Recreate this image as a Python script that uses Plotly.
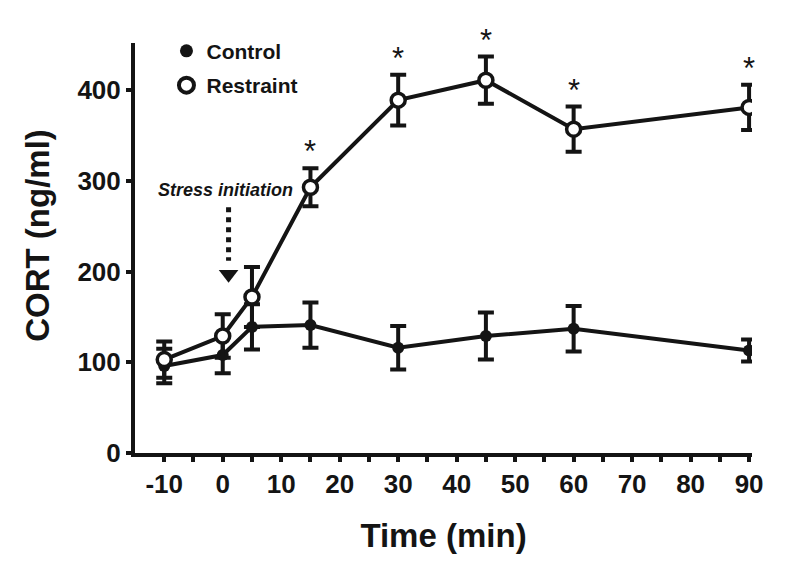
import plotly.graph_objects as go

time_min = [-10, 0, 5, 15, 30, 45, 60, 90]
control_mean = [96, 108, 139, 141, 116, 129, 137, 113]
control_err = [19, 20, 25, 25, 24, 26, 25, 12]
restraint_mean = [103, 129, 172, 293, 389, 411, 357, 381]
restraint_err = [20, 24, 33, 21, 28, 26, 25, 25]
sig_times = [15, 30, 45, 60, 90]

x_tickvals = list(range(-10, 91, 5))
x_ticktext = [str(v) if v % 10 == 0 else "" for v in x_tickvals]
y_tickvals = [0, 100, 200, 300, 400]

FONT = "Liberation Sans, Arial, sans-serif"
BLACK = "#141414"
LW = 4

fig = go.Figure()

fig.add_trace(go.Scatter(
    x=time_min, y=control_mean, mode="lines+markers", name="Control", showlegend=False,
    line=dict(color=BLACK, width=LW),
    marker=dict(symbol="circle", size=12, color=BLACK),
    error_y=dict(type="data", array=control_err, visible=True, color=BLACK, thickness=LW, width=8),
))
fig.add_trace(go.Scatter(
    x=time_min, y=restraint_mean, mode="lines+markers", name="Restraint", showlegend=False,
    line=dict(color=BLACK, width=LW),
    marker=dict(symbol="circle", size=14, color="white", line=dict(color=BLACK, width=3.5)),
    error_y=dict(type="data", array=restraint_err, visible=True, color=BLACK, thickness=LW, width=8),
))
# legend entries (markers only)
fig.add_trace(go.Scatter(x=[None], y=[None], mode="markers", name="<b>Control</b>",
                         legendgroup="a",
                         marker=dict(symbol="circle", size=13, color=BLACK)))
fig.add_trace(go.Scatter(x=[None], y=[None], mode="markers", name="<b>Restraint</b>",
                         legendgroup="b",
                         marker=dict(symbol="circle", size=15, color="white",
                                     line=dict(color=BLACK, width=4))))

# significance asterisks
for t in sig_times:
    i = time_min.index(t)
    fig.add_annotation(x=t, y=restraint_mean[i] + restraint_err[i], text="*", showarrow=False,
                       yanchor="bottom", yshift=-3, font=dict(family=FONT, size=31, color=BLACK))

# stress initiation arrow
ARROW_X = 1
ARROW_Y0 = 271
ARROW_Y1 = 212
ARROW_HEAD = 197
fig.add_shape(type="line", x0=ARROW_X, x1=ARROW_X, y0=ARROW_Y0, y1=ARROW_Y1,
              line=dict(color=BLACK, width=5, dash="dot"))
fig.add_trace(go.Scatter(x=[ARROW_X], y=[ARROW_HEAD], mode="markers", showlegend=False,
                         hoverinfo="skip",
                         marker=dict(symbol="triangle-down", size=17, color=BLACK)))
fig.add_annotation(x=0.5, y=290, text="<b><i>Stress initiation</i></b>", showarrow=False,
                   font=dict(family=FONT, size=18, color=BLACK))

# y-axis title
fig.add_annotation(xref="paper", yref="paper", x=-0.157, y=0.53, text="<b>CORT (ng/ml)</b>",
                   textangle=-90, showarrow=False, xanchor="center", yanchor="middle",
                   font=dict(family=FONT, size=33, color=BLACK))

fig.update_layout(
    width=800, height=566,
    margin=dict(l=127, r=56, t=35, b=121),
    paper_bgcolor="white", plot_bgcolor="white",
    font=dict(family=FONT, color=BLACK),
    legend=dict(x=0.051, y=1.03, xanchor="left", yanchor="top",
                font=dict(family=FONT, size=21, color=BLACK), itemwidth=30,
                bgcolor="rgba(0,0,0,0)", tracegroupgap=4),
    xaxis=dict(range=[-15, 90.5], tickmode="array", tickvals=x_tickvals, ticktext=x_ticktext,
               showgrid=False, zeroline=False, showline=True, linecolor=BLACK, linewidth=4,
               ticks="outside", ticklen=5, tickwidth=3.5, tickcolor=BLACK,
               tickfont=dict(family=FONT, size=26, color=BLACK, weight="bold"),
               title=dict(text="<b>Time (min)</b>", font=dict(family=FONT, size=33, color=BLACK),
                          standoff=27)),
    yaxis=dict(range=[0, 452], tickmode="array", tickvals=y_tickvals,
               showgrid=False, zeroline=False, showline=True, linecolor=BLACK, linewidth=4,
               ticks="outside", ticklen=5, tickwidth=3.5, tickcolor=BLACK,
               tickfont=dict(family=FONT, size=26, color=BLACK, weight="bold")),
)

fig.write_html("out.html")
